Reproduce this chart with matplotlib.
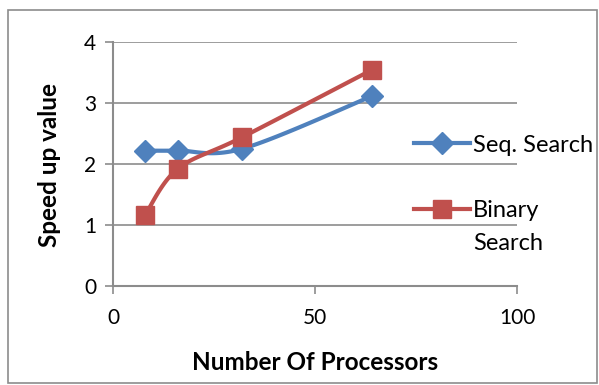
import numpy as np
import matplotlib.pyplot as plt
from matplotlib.patches import Rectangle
from matplotlib.lines import Line2D

processors = [8, 16, 32, 64]
seq_speedup = [2.22, 2.22, 2.25, 3.11]
bin_speedup = [1.17, 1.92, 2.44, 3.54]
series_names = ['Seq. Search', 'Binary\nSearch']

blue = '#4F81BD'
red = '#C0504D'
grid_col = '#8C8C8C'

plt.rcParams['font.family'] = ['Lato', 'DejaVu Sans']


def smooth(xs, ys, n=30):
    # Excel-style smoothed line (Catmull-Rom through the points)
    xs = np.asarray(xs, float)
    ys = np.asarray(ys, float)
    px = np.concatenate([[xs[0]], xs, [xs[-1]]])
    py = np.concatenate([[ys[0]], ys, [ys[-1]]])
    outx, outy = [], []
    t = np.linspace(0, 1, n)
    for i in range(1, len(px) - 2):
        p0, p1, p2, p3 = [np.array([px[j], py[j]]) for j in range(i - 1, i + 3)]
        c1 = p1 + (p2 - p0) / 6
        c2 = p2 - (p3 - p1) / 6
        pts = ((1 - t) ** 3)[:, None] * p1 + (3 * (1 - t) ** 2 * t)[:, None] * c1 \
            + (3 * (1 - t) * t ** 2)[:, None] * c2 + (t ** 3)[:, None] * p2
        outx.extend(pts[:, 0])
        outy.extend(pts[:, 1])
    return outx, outy


W, H = 599, 385
fig = plt.figure(figsize=(W / 100, H / 100), dpi=100)
fig.patches.append(Rectangle((8 / W, 2 / H), 589 / W, 373 / H, transform=fig.transFigure,
                             fill=False, edgecolor=grid_col, linewidth=1.2))
ax = fig.add_axes([113 / W, 1 - 286 / H, 404 / W, 244 / H])

sx, sy = smooth(processors, seq_speedup)
bx, by = smooth(processors, bin_speedup)
ax.plot(sx, sy, color=blue, lw=3, zorder=3)
ax.plot(bx, by, color=red, lw=3, zorder=3)
ax.plot(processors, seq_speedup, 'D', color=blue, ms=11, zorder=4)
ax.plot(processors, bin_speedup, 's', color=red, ms=13, zorder=4)

ax.set_xlim(0, 100)
ax.set_ylim(0, 4)
ax.set_xticks([0, 50, 100])
ax.set_yticks([0, 1, 2, 3, 4])
ax.yaxis.grid(True, color=grid_col, lw=1.2)
ax.set_axisbelow(True)
for s in ['top', 'right']:
    ax.spines[s].set_visible(False)
for s in ['left', 'bottom']:
    ax.spines[s].set_color(grid_col)
    ax.spines[s].set_linewidth(1.5)
ax.tick_params(axis='both', colors=grid_col, labelcolor='black', labelsize=15, length=6, width=1.2)
ax.tick_params(axis='x', pad=10)
ax.tick_params(axis='y', pad=6)

# axis titles placed at their centres in the figure
fig.text(315 / W, 1 - 361 / H, 'Number Of Processors', fontweight='bold', fontsize=17.5,
         ha='center', va='center_baseline')
fig.text(50 / W, 1 - 165 / H, 'Speed up value', fontweight='bold', fontsize=17.5,
         ha='center', va='center', rotation=90)

# legend drawn by hand so the handle sits on the first text line
leg_y = [143, 209]
leg_style = [dict(color=blue, marker='D', ms=11), dict(color=red, marker='s', ms=13)]
for y, name, st in zip(leg_y, series_names, leg_style):
    yf = 1 - y / H
    fig.add_artist(Line2D([414 / W, 470 / W], [yf, yf], transform=fig.transFigure,
                          lw=3, color=st['color']))
    fig.add_artist(Line2D([442 / W], [yf], transform=fig.transFigure, lw=0,
                          marker=st['marker'], ms=st['ms'], color=st['color']))
    for k, line in enumerate(name.split('\n')):
        fig.text(473 / W, 1 - (y + 32 * k) / H, line, fontsize=17, va='center_baseline',
                 ha='left', transform=fig.transFigure)

fig.savefig('out.png', dpi=100)
